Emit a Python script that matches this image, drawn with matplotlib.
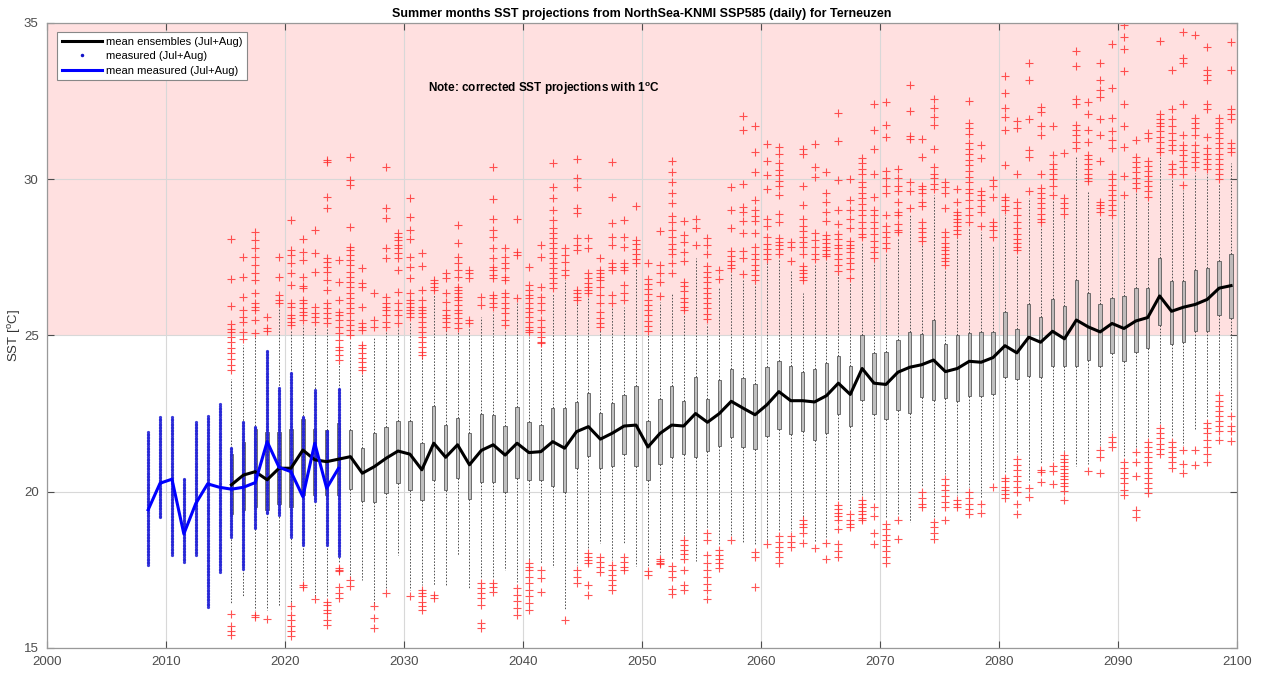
import numpy as np
import matplotlib
matplotlib.use("Agg")
import matplotlib.pyplot as plt
from matplotlib.lines import Line2D

plt.rcParams['font.family'] = ['Liberation Sans', 'DejaVu Sans']
plt.rcParams['mathtext.fontset'] = 'custom'
plt.rcParams['mathtext.rm'] = 'Liberation Sans'
plt.rcParams['mathtext.bf'] = 'Liberation Sans:bold'

# ---------------- data: ensemble projections (one box per year) ----------------
years = list(range(2015, 2100))
ens_mean = [20.22, 20.53, 20.64, 20.38, 20.75, 20.75, 21.33, 21.02, 20.96, 21.04,
            21.12, 20.59, 20.80, 21.07, 21.30, 21.20, 20.70, 21.55, 21.10, 21.50,
            20.86, 21.32, 21.50, 21.17, 21.55, 21.25, 21.28, 21.60, 21.39, 21.92,
            22.08, 21.68, 21.87, 22.10, 22.13, 21.43, 21.86, 22.13, 22.10, 22.50,
            22.22, 22.50, 22.89, 22.67, 22.46, 22.78, 23.20, 22.91, 22.91, 22.87,
            23.07, 23.47, 23.11, 23.94, 23.47, 23.43, 23.82, 23.98, 24.06, 24.21,
            23.84, 23.94, 24.17, 24.14, 24.29, 24.67, 24.44, 24.94, 24.78, 25.13,
            24.89, 25.49, 25.27, 25.11, 25.38, 25.22, 25.46, 25.57, 26.26, 25.77,
            25.90, 25.99, 26.15, 26.51, 26.59]
ens_q1 = [19.30, 19.40, 19.50, 19.40, 19.60, 19.50, 19.90, 19.90, 19.90, 19.90,
          20.08, 19.70, 19.68, 19.97, 20.27, 20.04, 19.72, 20.36, 20.06, 20.45,
          19.76, 20.32, 20.30, 20.00, 20.43, 20.38, 20.36, 20.18, 20.00, 20.75,
          21.14, 20.75, 20.82, 21.22, 20.82, 20.37, 20.89, 21.10, 21.19, 21.12,
          21.29, 21.45, 21.75, 21.43, 21.38, 21.77, 21.99, 21.83, 21.94, 21.66,
          21.87, 22.49, 22.10, 22.94, 22.49, 22.32, 22.60, 22.52, 23.03, 22.94,
          22.99, 22.91, 23.05, 23.05, 23.11, 23.67, 23.59, 23.70, 23.68, 24.03,
          24.03, 24.01, 24.21, 24.03, 24.45, 24.18, 24.47, 24.58, 25.33, 24.72,
          24.80, 25.13, 25.13, 25.64, 25.57]
ens_q3 = [21.20, 21.60, 22.00, 21.90, 21.90, 22.00, 22.32, 22.00, 21.97, 22.20,
          21.98, 21.39, 21.87, 22.08, 22.26, 22.26, 21.57, 22.74, 22.14, 22.35,
          21.87, 22.49, 22.46, 22.10, 22.72, 22.23, 22.14, 22.67, 22.67, 22.88,
          23.17, 22.51, 22.85, 23.10, 23.39, 22.27, 22.95, 23.39, 22.91, 23.67,
          22.95, 23.58, 23.92, 23.64, 23.45, 23.99, 24.18, 24.01, 23.84, 23.92,
          24.10, 24.35, 24.02, 25.00, 24.45, 24.47, 24.86, 25.12, 25.03, 25.50,
          24.71, 25.00, 25.09, 25.12, 25.12, 25.74, 25.20, 25.99, 25.60, 26.15,
          25.95, 26.78, 26.37, 25.99, 26.18, 26.26, 26.51, 26.51, 27.47, 26.75,
          26.75, 27.10, 27.14, 27.38, 27.61]
ens_whislo = [16.40, 16.65, 16.22, 16.22, 16.33, 16.43, 17.18, 16.65, 16.65, 17.71,
              17.28, 17.18, 16.45, 16.91, 17.98, 16.86, 17.00, 17.02, 17.02, 17.98,
              16.88, 17.23, 17.23, 17.50, 17.12, 17.82, 17.71, 17.60, 16.22, 17.66,
              18.19, 18.35, 17.82, 18.35, 17.62, 17.62, 17.96, 17.85, 18.57, 17.79,
              18.85, 18.30, 18.60, 18.40, 18.29, 18.45, 18.74, 18.74, 19.20, 18.40,
              18.55, 19.70, 19.45, 19.90, 19.70, 19.15, 19.30, 19.03, 20.15, 19.20,
              20.56, 19.90, 20.15, 19.80, 20.35, 20.60, 21.20, 20.30, 20.90, 21.00,
              21.30, 20.83, 20.90, 21.50, 21.90, 21.10, 21.40, 21.75, 22.20, 21.75,
              21.50, 22.00, 22.35, 23.25, 22.60]
ens_whishi = [23.60, 24.70, 24.96, 24.50, 25.90, 25.17, 25.33, 25.28, 25.28, 24.11,
              24.85, 23.79, 24.96, 25.17, 25.28, 25.44, 24.30, 26.30, 25.17, 25.12,
              25.28, 25.60, 25.76, 25.17, 26.02, 24.96, 24.64, 26.35, 26.77, 26.02,
              26.24, 25.17, 25.92, 25.92, 27.15, 25.02, 26.08, 26.36, 25.69, 27.49,
              25.36, 26.53, 27.04, 26.80, 26.65, 27.30, 27.43, 27.10, 26.36, 27.25,
              27.40, 26.95, 26.70, 27.95, 27.35, 27.60, 28.10, 28.85, 27.90, 29.50,
              27.10, 28.10, 28.45, 28.30, 27.90, 28.85, 27.55, 29.40, 28.50, 29.35,
              28.75, 30.70, 29.60, 28.80, 28.70, 29.30, 29.55, 29.28, 30.70, 30.00,
              29.65, 30.20, 30.15, 29.85, 30.50]
ens_out_hi = [
    [28.07, 26.79, 25.95, 25.35, 25.2, 25.1, 24.95, 24.8, 24.6, 24.45, 24.25, 24.05, 23.9],
    [27.52, 26.88, 26.22, 25.81, 25.6, 25.44, 25.12, 24.87],
    [28.32, 28.05, 27.78, 27.52, 27.25, 26.99, 26.77, 26.35, 26.03, 25.92, 25.81, 25.49, 25.09],
    [25.6, 25.23, 25.15],
    [27.52, 26.88, 26.29, 26.13, 26.05],
    [28.69, 27.73, 27.57, 27.3, 26.99, 26.61, 26.03, 25.92, 25.65, 25.55, 25.44, 25.33],
    [28.08, 27.68, 27.41, 26.88, 26.58, 26.51, 26.13, 26.03, 25.87, 25.76, 25.65, 25.49],
    [28.37, 27.62, 27.04, 25.92, 25.71, 25.6, 25.44],
    [30.61, 30.56, 29.44, 29.06, 27.46, 27.36, 27.2, 27.04, 26.77, 26.45, 26.03, 25.87, 25.71, 25.55, 25.41],
    [27.41, 26.72, 26.13, 25.76, 25.65, 25.49, 25.28, 25.07, 24.85, 24.64, 24.53, 24.37, 24.21],
    [30.72, 29.97, 29.81, 28.48, 27.84, 27.73, 27.57, 27.41, 27.25, 27.04, 26.88, 26.72, 26.56, 26.35, 26.19, 26.03, 25.87, 25.71, 25.49, 25.33, 25.17, 25.01],
    [27.15, 26.67, 26.56, 25.92, 25.39, 25.28, 25.17, 24.69, 24.59, 24.43, 24.27, 24.16, 24.0, 23.89],
    [26.35, 25.49, 25.28],
    [30.4, 29.06, 28.74, 27.78, 27.46, 26.24, 26.03, 25.92, 25.81, 25.65, 25.44, 25.28],
    [28.26, 28.16, 28.05, 27.89, 27.78, 27.62, 27.46, 27.09, 26.4, 26.03, 25.81, 25.65, 25.39],
    [29.38, 28.8, 28.37, 28.07, 27.52, 27.2, 26.82, 26.35, 26.13, 26.03, 25.92, 25.81, 25.71, 25.6],
    [27.62, 27.22, 26.45, 26.13, 25.92, 25.81, 25.71, 25.6, 25.44, 25.28, 25.12, 24.96, 24.8, 24.64, 24.48, 24.37],
    [26.77, 26.69, 26.56, 26.45],
    [26.99, 26.82, 26.35, 26.08, 25.81, 25.65, 25.55, 25.44, 25.28],
    [28.53, 27.95, 27.52, 27.31, 27.09, 26.88, 26.56, 26.45, 26.35, 26.24, 26.13, 25.97, 25.81, 25.71, 25.55, 25.39, 25.23],
    [27.09, 26.99, 26.82, 25.49, 25.41],
    [26.24, 25.97],
    [30.4, 29.36, 28.71, 28.37, 28.16, 27.78, 27.46, 27.2, 27.09, 26.93, 26.82, 26.29, 26.18, 26.02, 25.92],
    [27.78, 27.52, 27.31, 27.15, 26.88, 26.77, 26.35, 26.24, 26.02, 25.86, 25.71, 25.49, 25.33],
    [28.71, 27.68, 27.57, 26.18],
    [27.2, 26.61, 26.45, 26.29, 26.18, 26.02, 25.86, 25.76, 25.6, 25.44, 25.28, 25.17, 25.1],
    [27.89, 27.52, 26.56, 26.24, 26.02, 25.81, 25.49, 25.28, 25.12, 24.96, 24.8, 24.75],
    [30.52, 29.76, 29.38, 29.01, 28.69, 28.42, 28.26, 28.1, 27.95, 27.78, 27.63, 27.47, 27.31, 27.15, 26.99, 26.83, 26.66, 26.51],
    [27.78, 27.57, 27.36, 27.09, 26.93],
    [30.63, 30.02, 29.76, 29.06, 28.9, 28.1, 27.89, 27.73, 26.45, 26.35, 26.24, 26.13],
    [28.1, 27.78, 26.99, 26.83, 26.66, 26.56, 26.45, 26.35],
    [27.47, 27.09, 26.99, 26.88, 26.77, 26.56, 26.29, 26.02, 25.76, 25.55, 25.39, 25.28],
    [30.54, 29.44, 28.58, 28.16, 27.89, 27.31, 27.2, 27.09, 26.29, 26.02],
    [28.69, 28.16, 27.84, 27.31, 27.2, 27.09, 26.61, 26.35, 26.13],
    [29.13, 28.05, 27.93, 27.77, 27.6, 27.43, 27.32],
    [27.32, 26.81, 26.64, 26.48, 26.31, 26.14, 25.97, 25.81, 25.64, 25.47, 25.3, 25.13],
    [28.33, 27.26, 26.98, 26.7, 26.25],
    [30.57, 30.23, 29.9, 29.56, 29.22, 28.83, 28.61, 28.38, 28.16, 27.93, 27.77, 27.6, 27.32, 26.98],
    [28.66, 28.22, 27.99, 27.65, 27.37, 26.7, 26.59, 26.42, 26.2, 26.08, 25.92, 25.81],
    [28.72, 28.44, 27.88],
    [28.1, 27.88, 27.6, 27.21, 27.04, 26.87, 26.7, 26.53, 26.36, 26.2, 26.03, 25.86, 25.69, 25.53],
    [27.1, 26.81],
    [29.73, 29.0, 28.44, 27.71, 27.54, 27.37, 27.26, 27.15],
    [32.03, 31.58, 29.84, 29.11, 28.94, 28.66, 28.27, 27.71, 27.49, 26.95],
    [31.69, 30.85, 30.23, 29.34, 29.0, 28.83, 28.66, 28.27, 27.82, 27.6, 27.43, 27.26, 27.1, 26.93, 26.76],
    [31.13, 30.57, 30.12, 29.67, 28.72, 28.49, 28.16, 27.93, 27.77, 27.6, 27.43],
    [31.02, 30.79, 30.51, 30.29, 30.12, 29.95, 29.78, 29.5, 28.89, 28.61, 28.1, 27.99, 27.88, 27.77, 27.6],
    [27.99, 27.82, 27.37],
    [30.96, 30.79, 29.78, 29.17, 28.72, 28.49, 28.33, 28.16, 27.99, 27.82, 27.6, 27.21, 27.1, 26.98, 26.87, 26.76],
    [31.13, 30.4, 30.07, 28.27, 28.05, 27.82, 27.6, 27.43],
    [30.21, 29.55, 29.26, 28.96, 28.67, 28.2, 28.08, 27.96, 27.84, 27.72, 27.61, 27.55],
    [32.12, 31.23, 29.97, 29.02, 28.55, 28.25, 28.08, 27.9, 27.78, 27.6, 27.43, 27.25, 27.07],
    [30.0, 29.32, 29.02, 28.73, 28.43, 28.02, 27.9, 27.78, 27.66, 27.49, 27.31, 27.13, 26.84],
    [30.68, 30.5, 30.32, 30.15, 29.91, 29.73, 29.56, 29.38, 29.2, 29.02, 28.85, 28.61, 28.43, 28.25, 28.14],
    [32.39, 31.56, 30.97, 30.15, 29.44, 29.02, 28.85, 28.61, 28.43, 28.25, 28.02, 27.84, 27.66, 27.49],
    [32.45, 31.74, 31.33, 30.26, 30.03, 29.79, 29.56, 28.85, 28.49, 28.31, 28.14, 27.96, 27.78],
    [30.32, 30.03, 29.79, 29.61, 29.26, 28.96, 28.85, 28.55, 28.37, 28.31],
    [33.02, 32.19, 31.38, 31.27, 29.91, 29.61, 29.08],
    [31.27, 30.71, 29.79, 29.67, 29.56, 29.26, 29.14, 28.61, 28.43, 28.31, 28.14, 28.02],
    [32.57, 32.27, 31.98, 31.74, 30.97, 30.38, 30.15, 30.03, 29.85, 29.67],
    [29.91, 29.73, 29.56, 29.08, 28.31, 28.14, 27.96, 27.84, 27.72, 27.61, 27.49, 27.37, 27.25],
    [29.67, 29.26, 28.96, 28.85, 28.73, 28.61, 28.49, 28.37, 28.25],
    [32.51, 31.8, 31.62, 31.44, 31.15, 30.97, 30.8, 30.62, 30.44, 30.26, 30.08, 29.91, 29.67, 29.56, 29.32, 29.08, 28.85, 28.61],
    [31.09, 30.68, 29.61, 29.5, 29.32, 29.14, 28.96, 28.49],
    [29.97, 29.79, 29.44, 28.61, 28.49, 28.37, 28.14],
    [33.28, 32.75, 32.27, 31.98, 31.56, 30.44, 29.44, 29.32, 29.14, 29.02],
    [31.86, 31.62, 30.15, 29.26, 29.08, 28.85, 28.61, 28.43, 28.25, 28.08, 27.96, 27.84, 27.72],
    [33.72, 33.17, 31.91, 30.92, 30.7, 29.61],
    [32.29, 32.13, 31.69, 31.42, 30.15, 29.71, 29.55, 29.39, 29.22, 29.06, 28.89, 28.73, 28.62],
    [31.71, 30.76, 30.48, 30.32, 30.15, 29.99, 29.77, 29.5],
    [30.83, 29.39, 29.22, 29.06, 28.89],
    [34.1, 33.61, 32.57, 32.4, 31.74, 31.58, 31.42, 31.2, 30.98],
    [32.46, 32.07, 31.58, 31.2, 30.76, 30.65, 30.48, 30.32, 30.15, 30.04, 29.93],
    [33.72, 33.17, 32.84, 32.62, 31.91, 31.42, 30.59, 29.28, 29.17, 29.06, 28.95],
    [34.32, 32.9, 31.96, 31.53, 31.25, 30.98, 30.15, 29.99, 29.82, 29.66, 29.5, 29.33, 29.17, 29.0, 28.84],
    [34.93, 34.54, 34.16, 33.45, 32.4, 31.69, 31.03, 30.1, 29.5],
    [31.25, 30.7, 30.54, 30.37, 30.21, 30.04, 29.88, 29.71],
    [31.47, 31.31, 30.59, 30.43, 30.26, 30.1, 29.93, 29.77, 29.61, 29.44],
    [34.43, 32.07, 31.91, 31.8, 31.69, 31.53, 31.36, 31.2, 30.98, 30.87],
    [33.5, 32.24, 31.91, 31.69, 31.47, 31.25, 31.09, 30.92, 30.48, 30.32, 30.15],
    [34.71, 33.88, 33.72, 32.4, 31.42, 31.09, 30.92, 30.76, 30.59, 30.37, 30.15, 29.82],
    [34.6, 31.96, 31.8, 31.63, 31.42, 31.09, 30.87, 30.7, 30.54, 30.37],
    [34.21, 33.5, 33.34, 33.17, 32.4, 32.24, 31.36, 30.98, 30.81, 30.65, 30.48, 30.32],
    [31.96, 31.8, 31.63, 31.47, 31.31, 31.14, 30.98, 30.81, 30.65, 30.48, 30.32, 30.15, 29.99],
    [34.38, 33.5, 32.24, 32.07, 31.91, 31.14, 30.98, 30.87],
]
ens_out_lo = [
    [16.1, 15.7, 15.55, 15.4], [], [16.06, 15.98], [15.92], [],
    [16.33, 16.06, 15.9, 15.69, 15.53, 15.37], [17.02, 16.96], [16.56],
    [16.48, 16.38, 16.22, 16.11, 15.9, 15.74], [17.55, 17.5, 17.45, 16.96, 16.75, 16.59],
    [17.18, 16.99], [], [16.33, 15.95, 15.63], [16.75], [], [16.65],
    [16.86, 16.75, 16.65, 16.48, 16.33, 16.22], [16.7, 16.6], [], [], [],
    [17.07, 16.91, 16.75, 16.59, 16.38, 15.79, 15.63], [17.07, 16.96, 16.8], [],
    [16.91, 16.7, 16.49, 16.27, 16.06],
    [17.71, 17.6, 17.5, 17.28, 17.07, 16.86, 16.65, 16.43, 16.22],
    [17.5, 17.23, 16.8], [], [15.9], [17.5, 17.28, 17.07],
    [18.03, 17.92, 17.82, 17.71, 17.02, 16.7], [17.92, 17.76, 17.6, 17.44],
    [17.66, 17.5, 17.34, 17.18, 17.02, 16.86], [17.92, 17.76, 17.6, 17.5], [],
    [17.45, 17.34], [17.84, 17.79, 17.73, 17.68], [17.62, 17.45, 17.28, 16.89, 16.72],
    [18.46, 18.29, 18.12, 18.01, 17.84, 17.51, 17.0, 16.84], [],
    [18.69, 18.46, 17.96, 17.73, 17.51, 17.28, 17.06, 16.84, 16.56],
    [18.12, 17.96, 17.84, 17.73, 17.56], [18.46], [], [18.07, 17.9, 16.95], [18.32],
    [18.57, 18.4, 18.24, 18.07, 17.9, 17.73], [18.57, 18.4, 18.24],
    [19.08, 18.97, 18.86, 18.69, 18.35], [18.2], [18.37, 17.85],
    [19.57, 19.45, 19.33, 19.21, 19.09, 18.8, 18.33, 18.09, 17.91],
    [19.27, 19.09, 18.97, 18.86], [19.74, 19.62, 19.51, 19.39, 19.27, 19.15, 19.09],
    [19.51, 19.21, 18.68, 18.33], [18.97, 18.8, 18.62, 18.44, 18.27, 18.09, 17.91, 17.73],
    [19.09, 18.5], [], [19.98, 19.8, 19.62, 19.51], [19.03, 18.86, 18.68, 18.5],
    [20.39, 20.22, 20.04, 19.86, 19.68, 19.51, 19.09], [19.74, 19.62, 19.51],
    [19.98, 19.8, 19.62, 19.45, 19.27], [19.62, 19.33], [20.16],
    [20.45, 20.33, 20.16, 20.04, 19.92, 19.8],
    [21.04, 20.86, 20.69, 20.51, 20.33, 20.16, 19.98, 19.62, 19.27],
    [20.12, 19.84], [20.7, 20.63, 20.3], [20.83, 20.67, 20.23],
    [21.16, 21.05, 20.94, 20.83, 20.72, 20.61, 20.5, 20.39, 20.28, 20.17, 20.01, 19.73],
    [], [20.67], [21.32, 21.1, 20.61], [21.76, 21.6, 21.43],
    [20.94, 20.77, 20.61, 20.45, 20.28, 20.06, 19.9], [21.27, 20.94, 20.5, 19.4, 19.18],
    [21.6, 21.43, 21.27, 21.1, 20.94, 20.77, 20.61, 20.45, 20.28, 20.12, 19.95],
    [22.04, 21.87, 21.71, 21.54, 21.38, 21.21], [21.6, 21.43, 21.27, 21.1, 20.94, 20.77],
    [21.32, 20.89, 20.61], [21.32, 20.85], [22.2, 22.04, 21.87, 21.65, 21.43, 21.21, 20.94],
    [23.08, 22.91, 22.75, 22.58, 22.42, 22.26, 22.09, 21.93, 21.65], [22.42, 22.09, 21.93, 21.62],
]

# ---------------- data: measurements (Jul+Aug daily) ----------------
meas_years = list(range(2008, 2025))
meas_min = [17.66, 19.18, 17.98, 17.76, 17.98, 16.32, 17.44, 18.56, 17.54, 18.83,
            19.31, 19.26, 18.56, 18.30, 19.70, 18.30, 17.95]
meas_max = [21.92, 22.42, 22.42, 20.43, 22.24, 22.42, 22.83, 21.42, 22.24, 22.08,
            24.53, 23.31, 23.84, 22.40, 23.25, 21.97, 23.33]
meas_mean = [19.42, 20.27, 20.40, 18.65, 19.62, 20.25, 20.14, 20.08, 20.14, 20.29,
             21.60, 20.78, 20.64, 19.84, 21.55, 20.11, 20.75]
meas_resolution = 0.05  # apparent spacing of the daily values in each column

# ---------------- figure ----------------
fig = plt.figure(figsize=(12.68, 6.73), dpi=100)
ax = fig.add_axes([47 / 1268, 1 - 648 / 673, 1190 / 1268, 625.3 / 673])

ax.axhspan(25, 35, color='#ffe0e0', zorder=0.2, lw=0)

pos = [y + 0.5 for y in years]
stats = []
for i in range(len(years)):
    stats.append(dict(med=ens_mean[i], q1=ens_q1[i], q3=ens_q3[i],
                      whislo=ens_whislo[i], whishi=ens_whishi[i],
                      fliers=np.array(ens_out_hi[i] + ens_out_lo[i])))
ax.bxp(stats, positions=pos, widths=0.28, patch_artist=True, showcaps=False,
       showfliers=True, manage_ticks=False,
       boxprops=dict(facecolor='#b4b4b4', edgecolor='#5a5a5a', linewidth=0.7, alpha=0.85),
       whiskerprops=dict(color='#505050', linewidth=0.7, linestyle=(0, (1.6, 1.6))),
       medianprops=dict(linewidth=0),
       flierprops=dict(marker='+', markeredgecolor='#ff2a2a', markersize=6,
                       markeredgewidth=0.8, linestyle='none', alpha=0.8))

# measured daily dots
for yr, lo, hi in zip(meas_years, meas_min, meas_max):
    vals = np.arange(lo, hi + 1e-9, meas_resolution)
    ax.plot(np.full(vals.size, yr + 0.5), vals, linestyle='none', marker='o',
            markersize=2.3, markeredgewidth=0, color='#2626d6', alpha=0.9, zorder=3)

ax.plot(pos, ens_mean, color='black', lw=2.2, zorder=4)
ax.plot([y + 0.5 for y in meas_years], meas_mean, color='#0000ff', lw=2.2, zorder=5)

ax.set_xlim(2000, 2100)
ax.set_ylim(15, 35)
ax.set_xticks(np.arange(2000, 2101, 10))
ax.set_yticks(np.arange(15, 36, 5))
ax.grid(True, color='#d8d8d8', lw=0.8)
ax.set_axisbelow(True)
ax.tick_params(direction='in', length=5, width=0.8, colors='#4d4d4d',
               labelsize=9.5, top=True, right=True, pad=6)
for s in ax.spines.values():
    s.set_color('#999999')
    s.set_linewidth(0.9)

ax.set_title('Summer months SST projections from NorthSea-KNMI SSP585 (daily) for Terneuzen',
             fontsize=9, fontweight='bold', pad=4)
ax.set_ylabel(r'SST [$^{\rm o}$C]', fontsize=9.5, color='#333333')
ax.yaxis.set_label_coords(-0.020, 0.5)

ax.text(2032.0, 32.9, r'Note: corrected SST projections with 1$^{\mathbf{o}}$C',
        fontsize=8.5, fontweight='bold', va='center', ha='left')

handles = [Line2D([], [], color='black', lw=2.2),
           Line2D([], [], color='#1414c8', marker='.', markersize=3, linestyle='none'),
           Line2D([], [], color='#0000ff', lw=2.2)]
labels = ['mean ensembles (Jul+Aug)', 'measured (Jul+Aug)', 'mean measured (Jul+Aug)']
leg = ax.legend(handles, labels, loc='upper left', bbox_to_anchor=(0.0085, 0.985),
                borderaxespad=0, fancybox=False, framealpha=1, edgecolor='#888888',
                fontsize=8, handlelength=3.6, handletextpad=0.4, labelspacing=0.42,
                borderpad=0.4)
leg.get_frame().set_linewidth(0.8)
leg.set_zorder(10)

fig.savefig('out.png', dpi=100)
